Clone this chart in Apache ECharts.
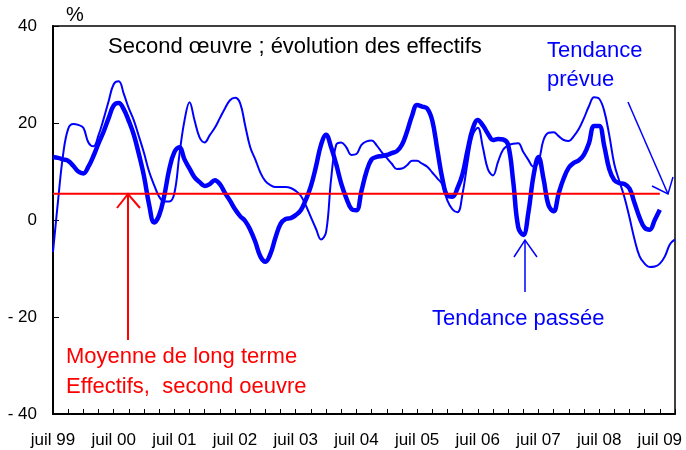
<!DOCTYPE html>
<html lang="fr">
<head>
<meta charset="UTF-8">
<title>Second oeuvre</title>
<style>
  html, body { margin: 0; padding: 0; background: #fff; }
  #chart { width: 686px; height: 450px; }
</style>
<script src="https://cdn.jsdelivr.net/npm/echarts@6/dist/echarts.min.js"></script>
</head>
<body>
<div id="chart"></div>
<script>
// mois : juil 99 -> oct 09
var monthNames = ['janv', 'févr', 'mars', 'avr', 'mai', 'juin', 'juil', 'août', 'sept', 'oct', 'nov', 'déc'];
var startYear = 1999, startMonth = 6, nbMonths = 124;

var categories = [];
for (var i = 0; i < nbMonths; i++) {
    var m = (startMonth + i) % 12;
    var y = startYear + Math.floor((startMonth + i) / 12);
    categories.push(monthNames[m] + ' ' + String(y).slice(2));
}

// tendance passée (trait épais)
var tendancePassee = [
    13.0, 12.8, 12.5, 12.2, 11.2, 10.0, 9.6, 11.0, 13.2, 15.8, 18.2, 21.0,
    23.6, 24.1, 22.8, 20.4, 17.5, 13.5, 9.0, 3.2, -0.5, 1.0, 5.0, 10.5,
    14.0, 15.0, 12.5, 10.6, 8.8, 7.8, 7.0, 7.4, 8.2, 7.4, 5.6, 4.0,
    2.2, 0.8, -0.2, -2.0, -4.5, -7.5, -8.6, -7.0, -3.6, -0.8, 0.2, 0.4,
    1.0, 2.0, 4.2, 7.0, 11.0, 15.5, 17.6, 15.0, 11.5, 7.5, 4.5, 2.3,
    2.0, 6.0, 10.0, 12.5, 13.0, 13.2, 13.4, 13.8, 14.2, 15.5, 18.2, 21.5,
    23.7, 23.4, 23.0, 20.5, 14.5, 8.5, 5.0, 4.8, 6.6, 9.5, 14.5, 18.8,
    20.6, 19.5, 17.8, 16.5, 16.7, 16.6, 15.5, 8.0, -1.5, -3.1, 1.5, 9.0,
    13.0, 8.5, 3.0, 1.8, 5.5, 8.6, 10.8, 11.8, 12.3, 13.5, 15.9, 19.4,
    19.4, 15.3, 10.5, 8.2, 7.6, 7.4, 6.5, 3.5, 0.5, -1.6, -2.0, 0.0,
    2.1
];

// tendance prévue (trait fin)
var tendancePrevue = [
    -6.6, 4.0, 13.5, 18.8, 19.8, 19.6, 19.0, 16.0, 15.2, 17.5, 20.8, 24.5,
    28.0, 28.6, 26.0, 23.0, 20.5, 17.2, 13.8, 10.0, 7.2, 4.8, 3.8, 3.8,
    5.5, 13.5, 20.5, 24.3, 20.5, 17.0, 16.0, 17.5, 19.0, 21.0, 23.0, 24.7,
    25.2, 24.1, 19.5, 15.0, 12.5, 9.8, 8.0, 7.2, 6.8, 6.8, 6.8, 6.6,
    6.0, 5.0, 3.0, 0.6, -1.8, -4.0, -2.5, 8.5, 15.5, 16.0, 15.0, 13.4,
    13.6, 15.5, 16.2, 16.4, 15.4, 14.0, 12.8, 11.6, 10.5, 10.6, 11.3, 12.2,
    12.2, 11.6, 11.0, 9.8, 8.6, 7.3, 4.0, 2.2, 1.6, 5.5, 12.0, 17.5,
    19.0, 15.0, 10.5, 9.2, 12.0, 14.5, 15.4, 15.7, 15.8, 14.0, 12.4, 11.0,
    12.0, 16.5, 18.0, 18.1, 17.3, 16.5, 16.3, 17.3, 18.8, 21.0, 23.5, 25.3,
    25.0, 22.5, 17.5, 11.5, 8.0, 4.7, 0.5, -4.0, -7.5, -9.0, -9.7, -9.6,
    -9.0, -7.5, -5.0, -4.0
];

// moyenne de long terme
var moyenne = 5.4;
var moyenneData = tendancePassee.map(function () { return moyenne; });

var yTicks = [-40, -20, 0, 20, 40];

var font = 'Liberation Sans, Arial, sans-serif';
var blue = '#0000ff';
var red = '#ff0000';

var chart = echarts.init(document.getElementById('chart'));
chart.setOption({
    backgroundColor: '#fff',
    animation: false,
    grid: {
        left: 53, right: 11, top: 26, bottom: 36,
        show: true, borderColor: '#000', borderWidth: 1.5
    },
    xAxis: {
        type: 'category',
        data: categories,
        boundaryGap: false,
        axisLine: { onZero: false, lineStyle: { color: '#000', width: 2 } },
        axisTick: { inside: true, length: 5, interval: 2, lineStyle: { color: '#000' } },
        axisLabel: { interval: 11, color: '#000', fontSize: 17, fontFamily: font, margin: 18 },
        splitLine: { show: false }
    },
    yAxis: {
        type: 'value',
        min: yTicks[0], max: yTicks[yTicks.length - 1], interval: 20,
        axisLine: { show: true, lineStyle: { color: '#000', width: 2 } },
        axisTick: { show: true, inside: true, length: 6, lineStyle: { color: '#000' } },
        axisLabel: {
            color: '#000', fontSize: 17, fontFamily: font, margin: 16,
            formatter: function (v) { return v < 0 ? '- ' + Math.abs(v) : String(v); }
        },
        splitLine: { show: false }
    },
    series: [
        {
            name: 'prévue', type: 'line', data: tendancePrevue, smooth: 0.4,
            symbol: 'none', lineStyle: { color: blue, width: 2 }, z: 2
        },
        {
            name: 'passée', type: 'line', data: tendancePassee, smooth: 0.4,
            symbol: 'none', lineStyle: { color: blue, width: 4.5 }, z: 3
        },
        {
            name: 'moyenne', type: 'line', data: moyenneData,
            symbol: 'none', lineStyle: { color: red, width: 2 }, z: 4
        }
    ],
    graphic: [
        { type: 'text', left: 66, top: 5, style: { text: '%', font: '20px ' + font, fill: '#000' } },
        { type: 'text', left: 108, top: 36, style: { text: 'Second œuvre ; évolution des effectifs', font: '22px ' + font, fill: '#000' } },
        { type: 'text', left: 547, top: 36, style: { text: 'Tendance\nprévue', font: '22px ' + font, fill: blue, lineHeight: 29 } },
        { type: 'text', left: 432, top: 308, style: { text: 'Tendance passée', font: '22px ' + font, fill: blue } },
        { type: 'text', left: 66, top: 342, style: { text: 'Moyenne de long terme\nEffectifs,  second oeuvre', font: '22px ' + font, fill: red, lineHeight: 30 } },
        // flèches
        { type: 'polyline', shape: { points: [[128, 340], [128, 194]] }, style: { stroke: red, lineWidth: 2 } },
        { type: 'polyline', shape: { points: [[117, 208], [128, 194], [140, 208]] }, style: { stroke: red, lineWidth: 2, fill: null } },
        { type: 'polyline', shape: { points: [[525, 292], [525, 240]] }, style: { stroke: blue, lineWidth: 1.5 } },
        { type: 'polyline', shape: { points: [[514, 257], [525, 240], [537, 257]] }, style: { stroke: blue, lineWidth: 1.5, fill: null } },
        { type: 'polyline', shape: { points: [[628, 102], [668, 194]] }, style: { stroke: blue, lineWidth: 1.5 } },
        { type: 'polyline', shape: { points: [[652, 186], [668, 194], [673, 177]] }, style: { stroke: blue, lineWidth: 1.5, fill: null } }
    ]
});
</script>
</body>
</html>
